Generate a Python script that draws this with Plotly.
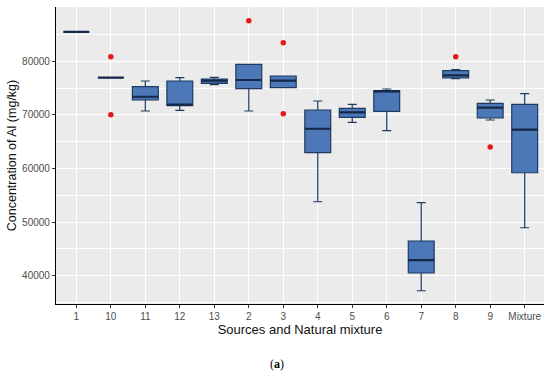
import plotly.graph_objects as go

categories = ["1", "10", "11", "12", "13", "2", "3", "4", "5", "6", "7", "8", "9", "Mixture"]
q1 = [85500, 76940, 72780, 71715, 75895, 74890, 75075, 62945, 69550, 70670, 40500, 76885, 69420, 59210]
median = [85500, 76940, 73390, 71900, 76380, 76510, 76380, 67420, 70480, 74400, 42920, 77390, 71340, 67240]
q3 = [85500, 76940, 75260, 76320, 76700, 79440, 77255, 70910, 71230, 74510, 46470, 78245, 72160, 71980]
lower = [85500, 76940, 70730, 70860, 75635, 70730, 75075, 53800, 68620, 67050, 37190, 76755, 69045, 48950]
upper = [85500, 76940, 76320, 76940, 77015, 79440, 77255, 72590, 71975, 74830, 53615, 78435, 72780, 73955]

outlier_x = ["10", "10", "2", "3", "3", "8", "9"]
outlier_y = [80860, 70035, 87580, 83470, 70220, 80860, 64010]

y_ticks = [40000, 50000, 60000, 70000, 80000]
y_labels = ["40000", "50000", "60000", "70000", "80000"]
y_minor = [35000, 45000, 55000, 65000, 75000, 85000]

fig = go.Figure()
fig.add_trace(go.Box(
    x=categories, q1=q1, median=median, q3=q3,
    lowerfence=lower, upperfence=upper,
    fillcolor="#4c78b8",
    line=dict(color="#1f3a60", width=1.2),
    width=0.75, whiskerwidth=0.35,
    boxpoints=False, showlegend=False, hoverinfo="skip",
))
# thicker median line, drawn as a flat box at the median
fig.add_trace(go.Box(
    x=categories, q1=median, median=median, q3=median,
    lowerfence=median, upperfence=median,
    fillcolor="rgba(0,0,0,0)",
    line=dict(color="#15294a", width=2.2),
    width=0.75, whiskerwidth=0,
    boxpoints=False, showlegend=False, hoverinfo="skip",
))
fig.add_trace(go.Scatter(
    x=outlier_x, y=outlier_y, mode="markers",
    marker=dict(color="#e31a1c", size=5.5),
    showlegend=False, hoverinfo="skip",
))

fig.update_layout(
    width=550, height=378,
    margin=dict(l=56, r=6, t=7, b=74),
    paper_bgcolor="white", plot_bgcolor="#ebebeb",
    boxmode="overlay",
    font=dict(family="Liberation Sans, Arial, sans-serif", color="#222222"),
    annotations=[dict(
        text="(<b>a</b>)", x=0.453, xref="paper", y=-0.202, yref="paper",
        xanchor="center", yanchor="middle", showarrow=False,
        font=dict(family="Liberation Serif, Times New Roman, serif", size=12, color="black"),
    )],
)
fig.update_xaxes(
    type="category", categoryorder="array", categoryarray=categories,
    range=[-0.59, 13.56], automargin=False,
    showgrid=True, gridcolor="white", gridwidth=1,
    showline=True, linecolor="black", linewidth=1.2,
    ticks="outside", ticklen=3, tickcolor="#333333",
    tickfont=dict(size=10, color="#4d4d4d"),
    title=dict(text="Sources and Natural mixture", font=dict(size=13, color="#111111"), standoff=2),
    zeroline=False,
)
fig.update_yaxes(
    range=[34720, 90130], automargin=False,
    tickvals=y_ticks, ticktext=y_labels,
    showgrid=True, gridcolor="white", gridwidth=1.1,
    minor=dict(tickvals=y_minor, showgrid=True, gridcolor="white", gridwidth=0.5, ticks=""),
    showline=True, linecolor="black", linewidth=1.2,
    ticks="outside", ticklen=3, tickcolor="#333333",
    tickfont=dict(size=10, color="#4d4d4d"),
    title=dict(text="Concentration of Al (mg/kg)", font=dict(size=12.5, color="#111111"), standoff=2),
    zeroline=False,
)

fig.write_html("out.html", config={"displayModeBar": False},
               post_script="document.body.style.margin='0';")
